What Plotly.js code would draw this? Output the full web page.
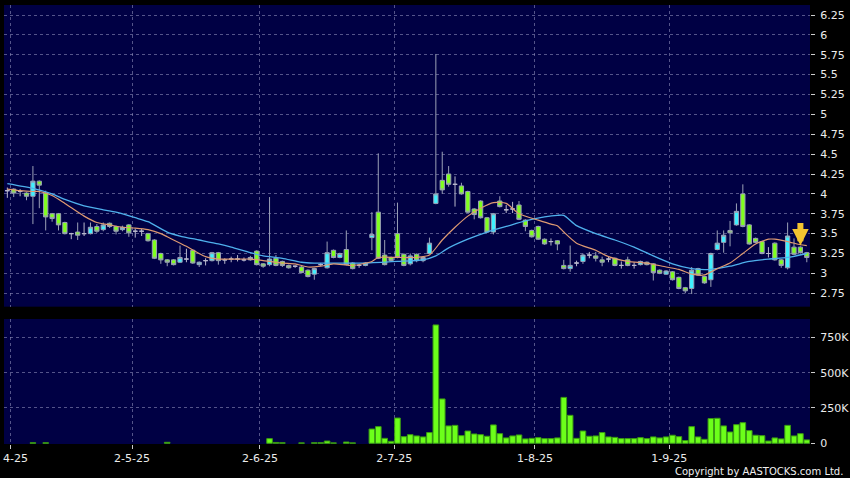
<!DOCTYPE html>
<html>
<head>
<meta charset="utf-8">
<script src="https://cdn.plot.ly/plotly-3.0.1.min.js"></script>
<style>html,body{margin:0;padding:0;background:#000;}#chart{width:850px;height:478px;}</style>
</head>
<body>
<div id="chart"></div>
<script>
// Daily bars, index 0..125 (trading days, end of Mar to end of Sep 2025)
const openP = [4.04,4.06,4.03,4.01,3.97,4.16,4.01,3.75,3.75,3.64,3.50,3.52,3.50,3.50,3.59,3.55,3.63,3.59,3.55,3.61,
3.53,3.53,3.50,3.42,3.25,3.17,3.17,3.14,3.18,3.29,3.11,3.16,3.16,3.26,3.17,3.18,3.18,3.17,3.17,3.28,
3.12,3.11,3.19,3.15,3.10,3.09,3.08,3.04,2.99,3.11,3.07,3.29,3.20,3.30,3.13,3.10,3.10,3.45,3.77,3.23,
3.20,3.50,3.24,3.12,3.24,3.16,3.25,3.88,4.17,4.25,4.12,4.10,4.03,3.81,3.91,3.70,3.52,3.91,3.80,3.81,
3.86,3.67,3.54,3.59,3.43,3.40,3.41,3.10,3.06,3.13,3.15,3.23,3.22,3.17,3.18,3.19,3.10,3.17,3.10,3.11,
3.14,3.12,3.04,2.99,3.02,2.95,2.82,2.81,3.06,2.96,2.92,3.30,3.39,3.54,3.61,4.00,3.61,3.44,3.40,3.25,
3.38,3.17,3.07,3.33,3.33,3.26];
const highP = [4.08,4.07,4.06,4.02,4.35,4.17,4.04,3.76,3.76,3.65,3.51,3.64,3.64,3.64,3.62,3.64,3.64,3.60,3.60,3.62,
3.56,3.56,3.51,3.43,3.26,3.18,3.18,3.35,3.31,3.30,3.15,3.19,3.27,3.27,3.19,3.21,3.23,3.20,3.22,3.29,
3.13,3.96,3.23,3.16,3.11,3.10,3.09,3.05,3.07,3.13,3.40,3.30,3.26,3.54,3.14,3.12,3.14,3.77,4.51,3.42,
3.21,3.89,3.25,3.25,3.25,3.21,3.45,5.76,4.53,4.35,4.22,4.14,4.04,3.82,3.92,3.71,3.76,3.97,3.86,3.90,
3.91,3.68,3.55,3.60,3.44,3.44,3.42,3.17,3.35,3.16,3.25,3.27,3.27,3.21,3.21,3.20,3.15,3.21,3.14,3.16,
3.15,3.13,3.05,3.04,3.03,2.96,2.83,3.08,3.07,2.97,3.26,3.54,3.54,3.66,3.88,4.12,3.62,3.45,3.41,3.33,
3.39,3.18,3.64,3.44,3.34,3.27];
const lowP = [3.95,3.96,3.97,3.92,3.62,3.82,3.54,3.65,3.54,3.49,3.43,3.42,3.47,3.49,3.51,3.53,3.57,3.49,3.53,3.46,
3.45,3.47,3.40,3.18,3.12,3.09,3.10,3.13,3.14,3.12,3.08,3.10,3.15,3.11,3.12,3.14,3.15,3.15,3.16,3.10,
3.07,3.09,3.09,3.08,3.06,3.07,3.00,2.95,2.92,3.09,3.06,3.19,3.19,3.10,3.05,3.07,3.09,3.29,3.18,3.10,
3.15,3.19,3.09,3.10,3.14,3.14,3.24,3.87,4.00,4.09,3.84,3.99,3.76,3.68,3.69,3.51,3.49,3.83,3.76,3.76,
3.67,3.53,3.45,3.42,3.36,3.35,3.29,3.05,3.02,3.09,3.12,3.19,3.15,3.09,3.14,3.09,3.06,3.09,3.06,3.10,
3.10,2.91,2.99,2.98,2.91,2.80,2.75,2.74,2.97,2.87,2.83,3.29,3.26,3.34,3.60,3.58,3.36,3.38,3.24,3.20,
3.16,3.07,3.05,3.23,3.25,3.14];
const closeP = [4.04,4.01,4.03,3.97,4.16,4.11,3.71,3.69,3.61,3.50,3.50,3.48,3.50,3.58,3.53,3.61,3.59,3.53,3.58,3.51,
3.53,3.53,3.41,3.19,3.17,3.14,3.11,3.20,3.18,3.13,3.14,3.16,3.26,3.16,3.17,3.18,3.18,3.17,3.20,3.11,
3.09,3.18,3.10,3.10,3.07,3.09,3.01,2.96,3.06,3.11,3.26,3.20,3.25,3.11,3.06,3.10,3.13,3.49,3.19,3.11,
3.16,3.20,3.10,3.22,3.16,3.20,3.38,4.00,4.05,4.12,4.12,4.00,3.77,3.74,3.70,3.52,3.75,3.84,3.80,3.81,
3.68,3.59,3.46,3.43,3.37,3.40,3.37,3.06,3.10,3.13,3.23,3.23,3.19,3.14,3.18,3.10,3.10,3.10,3.10,3.15,
3.11,3.01,3.00,3.03,2.92,2.81,2.78,3.04,2.98,2.88,3.25,3.38,3.48,3.51,3.78,3.59,3.37,3.39,3.25,3.25,
3.17,3.10,3.47,3.24,3.26,3.20];
// Volume in thousands of shares
const volumeK = [0,0,0,0,4,0,4,0,0,0,0,0,0,0,0,0,0,0,0,0,
0,0,0,0,0,7,0,0,0,0,0,0,0,0,0,0,0,0,0,0,
0,33,6,4,0,0,3,0,4,4,16,3,0,9,3,0,0,101,118,35,
14,179,47,61,52,45,76,838,314,123,127,54,87,66,61,50,130,68,38,52,
59,31,35,40,33,33,38,325,198,35,87,50,52,76,45,42,33,33,33,40,
33,45,38,45,57,47,19,118,45,28,175,177,123,80,132,146,90,57,54,16,
38,31,127,52,68,24];
// Moving averages (bar index, value)
const maShortIdx = [0,2,4,5,7,9,12,14,16,18,20,22,24,25,28,31,33,38,40,43,45,47,49,51,54,57,58,61,64,66,68,70,72,74,76,78,80,83,85,86,87,89,92,94,97,100,103,105,107,109,111,113,115,117,119,120,122,124,125];
const maShortVal = [4.06,4.04,4.03,4.03,3.98,3.88,3.72,3.64,3.61,3.58,3.57,3.55,3.50,3.46,3.34,3.21,3.18,3.18,3.16,3.13,3.12,3.08,3.09,3.12,3.10,3.15,3.20,3.20,3.20,3.23,3.42,3.58,3.72,3.82,3.89,3.88,3.75,3.67,3.62,3.60,3.52,3.38,3.29,3.21,3.15,3.13,3.08,3.05,2.99,2.98,3.06,3.13,3.25,3.37,3.43,3.43,3.40,3.36,3.35];
const maLongIdx = [0,4,7,9,12,15,17,20,22,25,27,30,33,35,38,40,43,46,48,51,56,61,65,67,69,72,75,78,81,84,86,87,89,92,95,98,101,104,107,110,113,116,119,122,125];
const maLongVal = [4.13,4.07,4.00,3.93,3.85,3.80,3.77,3.70,3.65,3.52,3.47,3.42,3.37,3.33,3.26,3.22,3.19,3.14,3.13,3.13,3.13,3.15,3.17,3.22,3.32,3.43,3.52,3.59,3.66,3.71,3.73,3.73,3.60,3.50,3.42,3.33,3.22,3.12,3.06,3.05,3.09,3.15,3.18,3.20,3.25];
// Axis ticks (the first month label is cut at the left edge in the original: only "4-25" shows)
const monthTickIdx = [1,20,40,61,83,104];
const monthTickLabels = ['','2-5-25','2-6-25','2-7-25','1-8-25','1-9-25'];
const firstVisibleLabel = '4-25';
const priceTicks = [2.75,3,3.25,3.5,3.75,4,4.25,4.5,4.75,5,5.25,5.5,5.75,6,6.25];
const priceTickLabels = ['2.75','3','3.25','3.5','3.75','4','4.25','4.5','4.75','5','5.25','5.5','5.75','6','6.25'];
const volTicks = [0,250000,500000,750000];
const volTickLabels = ['0','250K','500K','750K'];
const markerIdx = 124;

const idx = closeP.map((_, i) => i);
const moving = idx.filter(i => openP[i] !== closeP[i]);
const flat = idx.filter(i => openP[i] === closeP[i]);
const pick = (arr, sel) => sel.map(i => arr[i]);

const GRID = 'rgba(140,140,185,0.6)';
const WICK = '#9aa0b6';

const traces = [
  {
    type: 'candlestick', x: moving, open: pick(openP, moving), high: pick(highP, moving),
    low: pick(lowP, moving), close: pick(closeP, moving), xaxis: 'x', yaxis: 'y',
    increasing: {fillcolor: '#3ff0ff', line: {color: WICK, width: 1}},
    decreasing: {fillcolor: '#80ff1e', line: {color: WICK, width: 1}},
    whiskerwidth: 0, hoverinfo: 'skip'
  },
  {
    type: 'candlestick', x: flat, open: pick(openP, flat), high: pick(highP, flat),
    low: pick(lowP, flat), close: pick(closeP, flat), xaxis: 'x', yaxis: 'y',
    increasing: {fillcolor: '#b8b8cc', line: {color: '#b8b8cc', width: 1}},
    decreasing: {fillcolor: '#b8b8cc', line: {color: '#b8b8cc', width: 1}},
    whiskerwidth: 0, hoverinfo: 'skip'
  },
  {
    type: 'scatter', mode: 'lines', x: maLongIdx, y: maLongVal, xaxis: 'x', yaxis: 'y',
    line: {color: '#4fb0ec', width: 1.3, shape: 'spline', smoothing: 0.6}, hoverinfo: 'skip'
  },
  {
    type: 'scatter', mode: 'lines', x: maShortIdx, y: maShortVal, xaxis: 'x', yaxis: 'y',
    line: {color: '#de9a72', width: 1.2, shape: 'spline', smoothing: 0.6}, hoverinfo: 'skip'
  },
  {
    type: 'bar', x: idx, y: volumeK.map(v => v * 1000), xaxis: 'x', yaxis: 'y2',
    marker: {color: '#6cff1a', line: {color: '#3a9a12', width: volumeK.map(v => v > 0 ? 1 : 0)}},
    hoverinfo: 'skip'
  }
];

const layout = {
  width: 850, height: 478,
  paper_bgcolor: '#000000', plot_bgcolor: '#000044',
  margin: {l: 4, r: 40, t: 5, b: 34, pad: 0},
  showlegend: false, hovermode: false, bargap: 0.12, boxgap: 0.05,
  font: {family: 'DejaVu Sans', size: 11, color: '#e8e8e8'},
  xaxis: {
    anchor: 'y2', range: [-0.52, 125.5], fixedrange: true,
    tickmode: 'array', tickvals: monthTickIdx.map(i => i - 0.5), ticktext: monthTickLabels,
    ticks: 'outside', ticklen: 4, tickcolor: '#cccccc', tickfont: {size: 11, color: '#ececec'},
    showgrid: true, gridcolor: GRID, griddash: '3px,3px', gridwidth: 1,
    zeroline: false, showline: false, rangeslider: {visible: false}, automargin: false
  },
  yaxis: {
    domain: [0.3128, 1], range: [2.581, 6.376], side: 'right', anchor: 'x', fixedrange: true,
    tickmode: 'array', tickvals: priceTicks, ticktext: priceTickLabels,
    ticks: 'outside', ticklen: 4, tickcolor: '#cccccc', ticklabelstandoff: 3,
    tickfont: {size: 11, color: '#ececec'},
    showgrid: true, gridcolor: GRID, griddash: '3px,3px', gridwidth: 1,
    zeroline: false, showline: false, automargin: false
  },
  yaxis2: {
    domain: [0, 0.2847], range: [-5000, 880000], side: 'right', anchor: 'x', fixedrange: true,
    tickmode: 'array', tickvals: volTicks, ticktext: volTickLabels,
    ticks: 'outside', ticklen: 4, tickcolor: '#cccccc', ticklabelstandoff: 3,
    tickfont: {size: 11, color: '#ececec'},
    showgrid: true, gridcolor: GRID, griddash: '3px,3px', gridwidth: 1,
    zeroline: false, showline: false, automargin: false
  },
  annotations: [
    {
      xref: 'x', yref: 'y', x: markerIdx, y: highP[markerIdx] + 0.01,
      ax: 0, ay: -24, axref: 'pixel', ayref: 'pixel',
      showarrow: true, arrowhead: 2, arrowsize: 0.55, arrowwidth: 6, arrowcolor: '#f4c430',
      standoff: 0, text: ''
    },
    {
      xref: 'paper', yref: 'paper', x: -0.004, y: -0.032, xanchor: 'left', yanchor: 'middle',
      showarrow: false, text: firstVisibleLabel,
      font: {family: 'DejaVu Sans', size: 11, color: '#ececec'}
    },
    {
      xref: 'paper', yref: 'paper', x: 1.0434, y: -0.062, xanchor: 'right', yanchor: 'middle',
      showarrow: false, text: 'Copyright by AASTOCKS.com Ltd.',
      font: {family: 'DejaVu Sans', size: 10, color: '#f0f0f0'}
    }
  ]
};

Plotly.newPlot('chart', traces, layout, {displayModeBar: false, staticPlot: true});
</script>
</body>
</html>
